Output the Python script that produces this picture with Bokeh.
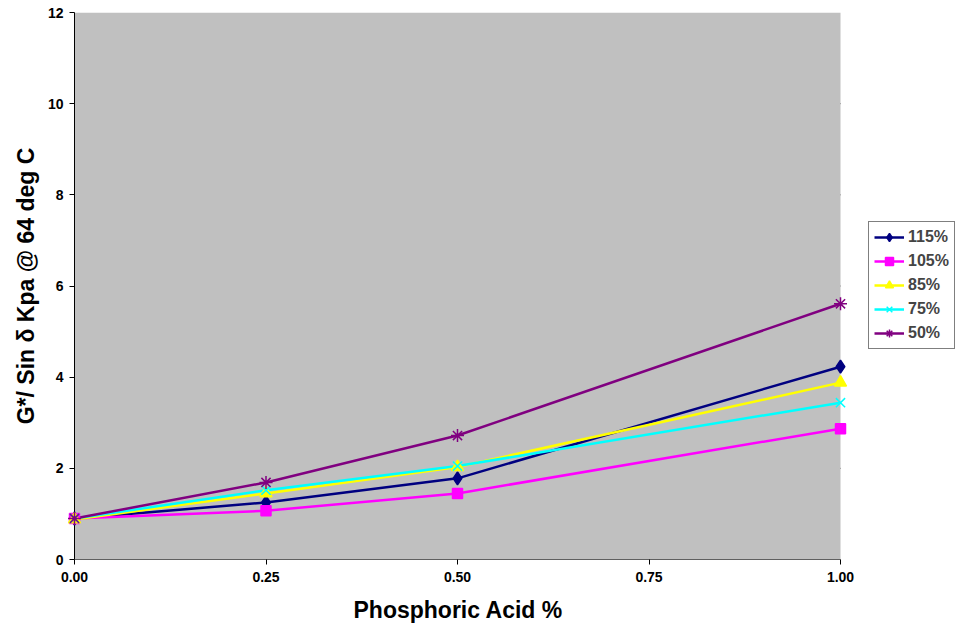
from bokeh.plotting import figure
from bokeh.models import (Range1d, FixedTicker, NumeralTickFormatter, Legend, LegendItem,
                          BoxAnnotation, Title)
from bokeh.embed import file_html
from bokeh.resources import INLINE

acid = [0.00, 0.25, 0.50, 1.00]
s115 = [0.90, 1.25, 1.78, 4.23]
s105 = [0.90, 1.07, 1.45, 2.87]
s85 = [0.88, 1.45, 2.03, 3.88]
s75 = [0.90, 1.52, 2.05, 3.44]
s50 = [0.90, 1.69, 2.72, 5.61]
names = ["115%", "105%", "85%", "75%", "50%"]
x_ticks = [0.0, 0.25, 0.5, 0.75, 1.0]
y_ticks = [0, 2, 4, 6, 8, 10, 12]

X_MIN, X_MAX = 0.0, 1.0
Y_MIN, Y_MAX = 0, 12
# the frame extends to the right edge so that the legend sits inside it
X_VIEW_MAX = X_MAX + 120.0 / 766.0

p = figure(width=960, height=634, output_backend="svg", toolbar_location=None,
           x_range=Range1d(X_MIN, X_VIEW_MAX), y_range=Range1d(Y_MIN, Y_MAX))
p.min_border_left = 74
p.min_border_right = 0
p.min_border_top = 12
p.min_border_bottom = 75
p.background_fill_color = "white"
p.border_fill_color = "white"
p.outline_line_color = None

plot_area = BoxAnnotation(left=X_MIN, right=X_MAX, bottom=Y_MIN, top=Y_MAX,
                          fill_color="#C0C0C0", fill_alpha=1, line_color=None,
                          level="underlay")
p.add_layout(plot_area)

p.xgrid.grid_line_color = None
p.ygrid.grid_line_color = None
grid_y = y_ticks[1:-1]
p.segment(x0=[X_MIN] * len(grid_y), y0=grid_y, x1=[X_MAX] * len(grid_y), y1=grid_y,
          line_color="black", line_width=1, level="underlay")

font = "Liberation Sans"
for ax in (p.xaxis[0], p.yaxis[0]):
    ax.major_label_text_font = font
    ax.major_label_text_font_style = "bold"
    ax.major_label_text_font_size = "14px"
    ax.major_label_text_color = "black"
    ax.axis_label_text_font = font
    ax.axis_label_text_font_style = "bold"
    ax.axis_label_text_font_size = "23px"
    ax.axis_label_text_color = "black"
    ax.minor_tick_line_color = None
    ax.major_tick_in = 0
    ax.major_tick_out = 5
    ax.axis_line_color = "black"
    ax.major_tick_line_color = "black"

p.xaxis.ticker = FixedTicker(ticks=x_ticks)
p.xaxis.formatter = NumeralTickFormatter(format="0.00")
p.xaxis.bounds = (X_MIN, X_MAX)
p.yaxis.ticker = FixedTicker(ticks=y_ticks)
p.yaxis.axis_label = "G*/ Sin δ Kpa @ 64 deg C"
p.xaxis.major_label_standoff = 7
p.yaxis.major_label_standoff = 6
p.yaxis.axis_label_standoff = 6
p.xaxis.axis_line_color = "#606060"

# x-axis title centred under the grey plot area (not the whole frame)
x_title = Title(text="Phosphoric Acid %", align="left", offset=279,
                text_font=font, text_font_style="bold", text_font_size="23px",
                text_color="black", standoff=20)
p.add_layout(x_title, "below")

items = []
specs = [
    (s115, "#000080", "diamond", 13),
    (s105, "#FF00FF", "square", 10),
    (s85, "#FFFF00", "triangle", 12),
    (s75, "#00FFFF", "x", 13),
    (s50, "#800080", "asterisk", 13),
]
for name, (vals, col, mk, sz) in zip(names, specs):
    ln = p.line(acid, vals, line_color=col, line_width=2.5)
    sc = p.scatter(acid, vals, marker=mk, size=sz, fill_color=col, line_color=col,
                   line_width=1.5, level="overlay")
    items.append(LegendItem(label=name, renderers=[ln, sc]))

legend = Legend(items=items, location=(794, 210), orientation="vertical")
legend.label_text_font = font
legend.label_text_font_style = "bold"
legend.label_text_font_size = "16px"
legend.border_line_color = "black"
legend.border_line_width = 1
legend.background_fill_color = "white"
legend.background_fill_alpha = 1
legend.spacing = 4
legend.padding = 5
legend.margin = 0
legend.glyph_width = 30
legend.label_standoff = 4
legend.label_height = 20
legend.glyph_height = 20
p.add_layout(legend, "center")

open("out.html", "w").write(file_html(p, INLINE))
